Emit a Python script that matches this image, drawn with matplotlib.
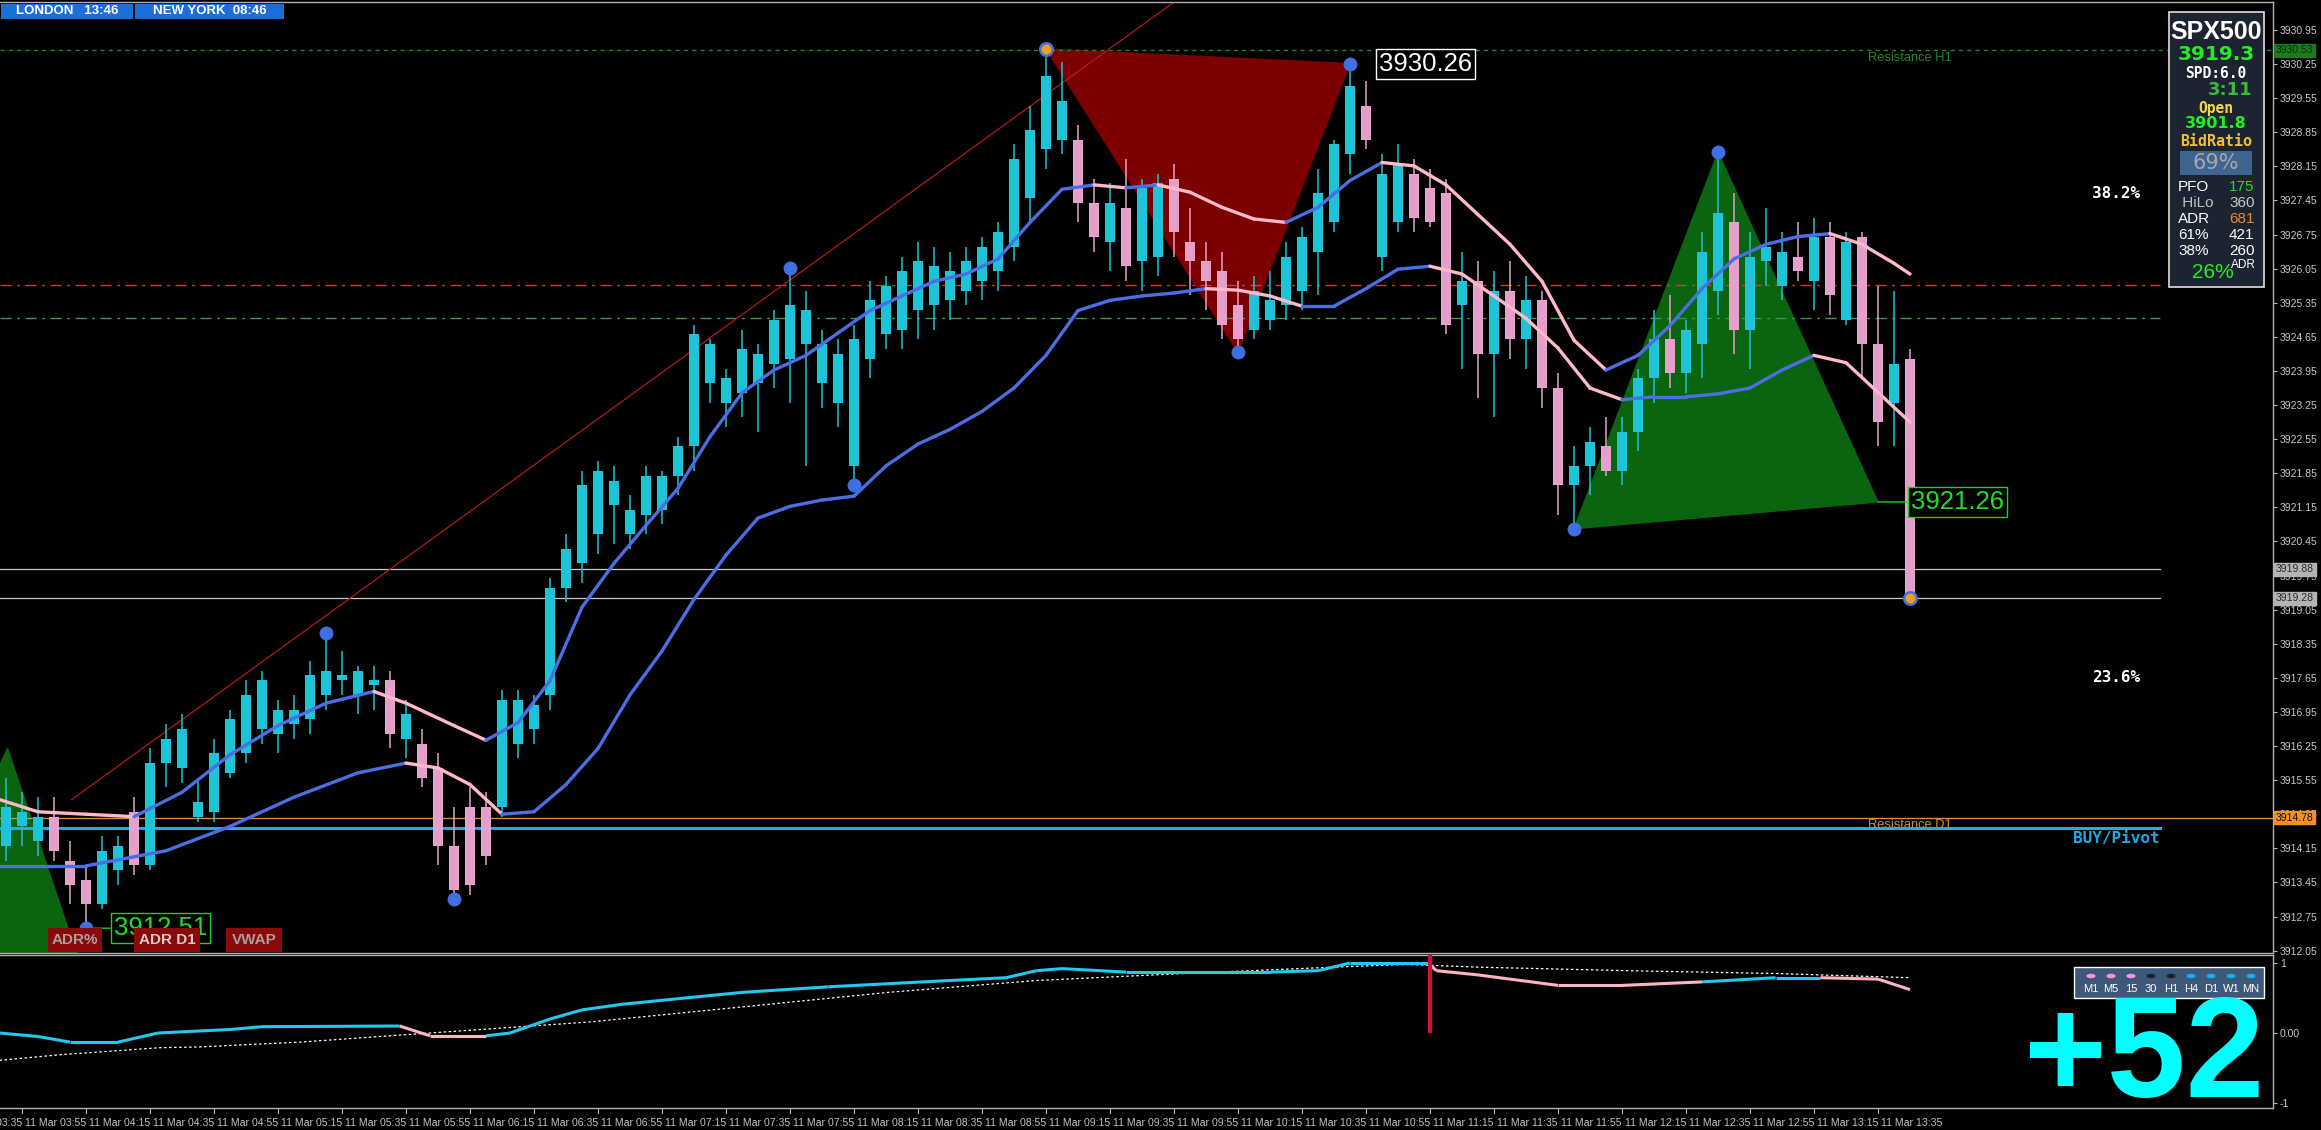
import numpy as np
import matplotlib
matplotlib.use("Agg")
import matplotlib.pyplot as plt
from matplotlib.patches import Rectangle, Polygon
from matplotlib.collections import LineCollection
import matplotlib.transforms as mtrans

W, H = 2321, 1130

# ---------------- data ----------------
# 5-minute candles, 11 Mar 03:50 ... 13:45 (bar index 0..119)
opens = [3914.2, 3914.6, 3914.3, 3914.8, 3913.9, 3913.5, 3913.0, 3913.7, 3914.9, 3913.8,
         3915.9, 3915.8, 3914.8, 3914.9, 3915.7, 3916.1, 3916.6, 3916.5, 3916.7, 3916.8,
         3917.3, 3917.6, 3917.3, 3917.5, 3917.6, 3916.4, 3916.3, 3915.8, 3914.2, 3915.0,
         3915.0, 3915.0, 3916.3, 3916.6, 3917.3, 3919.5, 3920.0, 3920.6, 3921.2, 3920.6,
         3921.0, 3921.1, 3921.8, 3922.4, 3923.7, 3923.3, 3923.5, 3923.7, 3924.1, 3924.2,
         3924.5, 3923.7, 3923.3, 3922.0, 3924.2, 3924.7, 3924.8, 3925.2, 3925.3, 3925.4,
         3925.6, 3925.8, 3926.0, 3926.5, 3927.5, 3928.5, 3928.7, 3928.7, 3927.4, 3926.6,
         3927.3, 3926.2, 3926.3, 3927.9, 3926.6, 3926.2, 3926.0, 3925.3, 3924.8, 3925.0,
         3925.3, 3925.6, 3926.4, 3927.0, 3928.4, 3929.4, 3926.3, 3927.0, 3928.0, 3927.7,
         3927.6, 3925.3, 3925.8, 3924.3, 3925.6, 3924.6, 3925.4, 3923.6, 3921.6, 3922.0,
         3922.4, 3921.9, 3922.7, 3923.8, 3924.6, 3923.9, 3924.5, 3925.6, 3927.0, 3924.8,
         3926.2, 3925.7, 3926.3, 3925.8, 3926.7, 3925.0, 3926.7, 3924.5, 3923.3, 3924.2]
highs = [3915.6, 3915.3, 3915.2, 3915.2, 3914.3, 3913.8, 3914.4, 3914.4, 3915.2, 3916.2,
         3916.7, 3916.9, 3915.6, 3916.4, 3917.0, 3917.6, 3917.8, 3917.2, 3917.3, 3918.0,
         3918.6, 3918.2, 3917.9, 3917.9, 3917.8, 3917.2, 3916.6, 3916.1, 3915.0, 3915.4,
         3915.3, 3917.4, 3917.4, 3917.3, 3919.7, 3920.6, 3921.9, 3922.1, 3922.0, 3921.4,
         3922.0, 3921.9, 3922.6, 3924.9, 3924.6, 3924.0, 3924.8, 3924.5, 3925.2, 3926.07,
         3925.6, 3924.8, 3924.6, 3924.9, 3925.8, 3925.9, 3926.3, 3926.6, 3926.5, 3926.4,
         3926.5, 3926.7, 3927.0, 3928.6, 3929.4, 3930.56, 3930.3, 3929.0, 3927.9, 3927.8,
         3928.3, 3927.9, 3928.0, 3928.2, 3927.3, 3926.6, 3926.4, 3925.8, 3925.9, 3926.0,
         3926.6, 3926.9, 3928.1, 3928.7, 3930.26, 3929.9, 3928.4, 3928.6, 3928.3, 3928.1,
         3927.9, 3926.4, 3926.2, 3926.0, 3926.2, 3925.9, 3925.6, 3923.9, 3922.4, 3922.8,
         3923.0, 3923.0, 3924.0, 3925.2, 3925.5, 3925.0, 3926.8, 3928.44, 3927.6, 3926.8,
         3927.3, 3926.8, 3927.0, 3927.1, 3927.0, 3926.8, 3926.8, 3925.7, 3925.6, 3924.4]
lows = [3913.9, 3914.2, 3914.0, 3913.9, 3913.0, 3912.51, 3912.9, 3913.4, 3913.6, 3913.7,
        3915.4, 3915.5, 3914.7, 3914.7, 3915.6, 3915.9, 3916.3, 3916.1, 3916.4, 3916.5,
        3917.0, 3917.3, 3916.9, 3917.0, 3916.2, 3916.0, 3915.4, 3913.8, 3913.11, 3913.2,
        3913.8, 3914.8, 3916.0, 3916.3, 3917.0, 3919.2, 3919.6, 3920.2, 3920.4, 3920.3,
        3920.6, 3920.8, 3921.4, 3921.9, 3923.3, 3922.8, 3923.0, 3922.7, 3923.6, 3923.3,
        3922.0, 3923.2, 3922.8, 3921.6, 3923.8, 3924.4, 3924.4, 3924.6, 3924.8, 3925.0,
        3925.3, 3925.4, 3925.6, 3926.2, 3927.0, 3928.1, 3928.4, 3927.0, 3926.4, 3926.0,
        3925.8, 3925.6, 3925.9, 3926.3, 3925.5, 3925.2, 3924.6, 3924.33, 3924.6, 3924.8,
        3925.0, 3925.2, 3925.5, 3926.8, 3928.0, 3928.5, 3926.0, 3926.8, 3926.8, 3926.9,
        3924.7, 3924.0, 3923.4, 3923.0, 3924.2, 3924.0, 3923.2, 3921.0, 3920.71, 3921.4,
        3921.8, 3921.6, 3922.3, 3923.3, 3923.6, 3923.5, 3923.8, 3925.1, 3924.3, 3924.0,
        3925.7, 3925.4, 3925.8, 3925.2, 3925.1, 3924.9, 3923.8, 3922.4, 3922.4, 3919.28]
closes = [3915.0, 3914.9, 3914.8, 3914.1, 3913.4, 3913.0, 3914.1, 3914.2, 3913.8, 3915.9,
          3916.4, 3916.6, 3915.1, 3916.1, 3916.8, 3917.3, 3917.6, 3917.0, 3917.0, 3917.7,
          3917.8, 3917.7, 3917.8, 3917.6, 3916.5, 3916.9, 3915.6, 3914.2, 3913.3, 3913.4,
          3914.0, 3917.2, 3917.2, 3917.1, 3919.5, 3920.3, 3921.6, 3921.9, 3921.7, 3921.1,
          3921.8, 3921.8, 3922.4, 3924.7, 3924.5, 3923.8, 3924.4, 3924.3, 3925.0, 3925.3,
          3925.2, 3924.5, 3924.3, 3924.6, 3925.4, 3925.7, 3926.0, 3926.2, 3926.1, 3926.0,
          3926.2, 3926.5, 3926.8, 3928.3, 3928.9, 3930.0, 3929.5, 3927.4, 3926.7, 3927.4,
          3926.1, 3927.7, 3927.8, 3926.8, 3926.2, 3925.8, 3924.9, 3924.6, 3925.6, 3925.4,
          3926.3, 3926.7, 3927.6, 3928.6, 3929.8, 3928.7, 3928.0, 3928.2, 3927.1, 3927.0,
          3924.9, 3925.8, 3924.3, 3925.6, 3924.6, 3925.4, 3923.6, 3921.6, 3922.0, 3922.5,
          3921.9, 3922.7, 3923.8, 3924.6, 3923.9, 3924.8, 3926.4, 3927.2, 3924.8, 3926.3,
          3926.5, 3926.4, 3926.0, 3926.7, 3925.5, 3926.6, 3924.5, 3922.9, 3924.1, 3919.28]

# fast moving average (bicolour) sampled at bar positions
fast_x = [-0.4, 2, 5, 8, 11, 14, 17, 20, 23, 25, 28, 30, 32, 34, 36, 38, 40, 42, 44, 46,
          48, 50, 52, 54, 56, 58, 60, 62, 64, 66, 68, 70, 72, 74, 76, 78, 80, 82, 84, 86,
          88, 90, 92, 94, 96, 98, 100, 102, 104, 106, 108, 110, 112, 114, 116, 118, 119]
fast_v = [3915.15, 3914.9, 3914.85, 3914.8, 3915.3, 3916.07, 3916.67, 3917.13, 3917.37, 3917.13,
          3916.67, 3916.37, 3916.73, 3917.59, 3919.1, 3920.0, 3920.78, 3921.54, 3922.6, 3923.5,
          3923.97, 3924.27, 3924.73, 3925.19, 3925.49, 3925.79, 3925.94, 3926.25, 3927.0, 3927.68,
          3927.77, 3927.71, 3927.77, 3927.62, 3927.31, 3927.07, 3927.0, 3927.31, 3927.86, 3928.23,
          3928.16, 3927.77, 3927.16, 3926.55, 3925.79, 3924.58, 3923.97, 3924.27, 3924.88, 3925.64,
          3926.25, 3926.55, 3926.71, 3926.77, 3926.55, 3926.16, 3925.94]
# slow moving average
slow_x = [-0.4, 5, 10, 14, 18, 22, 25, 27, 29, 31, 33, 35, 37, 39, 41, 43, 45, 47, 49, 51,
          53, 55, 57, 59, 61, 63, 65, 67, 69, 71, 73, 75, 77, 79, 81, 83, 85, 87, 89, 91,
          93, 95, 97, 99, 101, 103, 105, 107, 109, 111, 113, 115, 117, 119]
slow_v = [3913.79, 3913.79, 3914.1, 3914.6, 3915.2, 3915.7, 3915.9, 3915.8, 3915.46, 3914.85,
          3914.9, 3915.46, 3916.2, 3917.3, 3918.2, 3919.26, 3920.17, 3920.93, 3921.17, 3921.3,
          3921.38, 3922.0, 3922.45, 3922.75, 3923.12, 3923.6, 3924.27, 3925.19, 3925.4, 3925.49,
          3925.55, 3925.64, 3925.61, 3925.49, 3925.28, 3925.28, 3925.64, 3926.04, 3926.1, 3925.94,
          3925.49, 3925.03, 3924.42, 3923.6, 3923.36, 3923.42, 3923.42, 3923.48, 3923.6, 3923.97,
          3924.27, 3924.12, 3923.51, 3922.9]

# swing points (zig-zag dots)
swing_x = [5, 20, 28, 49, 53, 65, 77, 84, 98, 107, 119]
swing_p = [3912.51, 3918.58, 3913.11, 3926.07, 3921.60, 3930.56, 3924.33, 3930.26, 3920.71, 3928.44, 3919.28]
swing_hl = ['blue', 'blue', 'blue', 'blue', 'blue', 'orange', 'blue', 'blue', 'blue', 'blue', 'orange']

# harmonic triangles
tri_red_x = [65, 84, 77]
tri_red_p = [3930.56, 3930.26, 3924.33]
tri_green_x = [98, 107, 117]
tri_green_p = [3920.71, 3928.44, 3921.26]
tri_left_x = [-3, 0.1, 4.6, -3]
tri_left_p = [3914.0, 3916.2, 3911.8, 3911.8]

# trend line
trend_x = [4.1, 73.2]
trend_p = [3915.15, 3931.57]

# horizontal levels
res_h1 = 3930.53
lvl_red = 3925.72
lvl_green = 3925.04
lvl_gray = [3919.88, 3919.28]
res_d1 = 3914.78
pivot = 3914.56

# oscillator (lower window)
osc_x = [-0.4, 2, 4, 7, 9.5, 14, 16, 24.6, 26.5, 30, 31.5, 34, 36, 38.5, 42, 46, 51.4, 59, 62.5,
         64.4, 66, 70, 79, 82, 84, 88.9, 89.4, 92, 97, 101, 106, 110.6, 113.4, 117, 119]
osc_v = [0.0, -0.05, -0.13, -0.13, 0.0, 0.05, 0.09, 0.1, -0.04, -0.04, 0.0, 0.2, 0.33, 0.41,
         0.49, 0.58, 0.66, 0.75, 0.79, 0.89, 0.92, 0.87, 0.87, 0.89, 1.0, 1.0, 0.89, 0.83, 0.68,
         0.68, 0.73, 0.79, 0.79, 0.77, 0.62]
osc_col = ['c'] * 7 + ['p', 'p', 'c'] + ['c'] * 15 + ['p'] * 5 + ['c', 'c', 'p', 'p']
sig_x = [-0.4, 3.4, 6.5, 9.6, 12, 18.4, 24.6, 36.6, 45.9, 55.1, 64.4, 73.6, 82.9, 87.5, 92.1, 101.4, 110.6, 119]
sig_v = [-0.39, -0.31, -0.26, -0.21, -0.2, -0.13, -0.03, 0.16, 0.37, 0.58, 0.75, 0.85, 0.94, 0.98, 0.94, 0.89, 0.85, 0.79]
hist_x = [89]
hist_v = [1.12]

price_ticks = [3930.95, 3930.25, 3929.55, 3928.85, 3928.15, 3927.45, 3926.75, 3926.05, 3925.35,
               3924.65, 3923.95, 3923.25, 3922.55, 3921.85, 3921.15, 3920.45, 3919.75, 3919.05,
               3918.35, 3917.65, 3916.95, 3916.25, 3915.55, 3914.85, 3914.15, 3913.45, 3912.75, 3912.05]
time_labels = ["03:35", "03:55", "04:15", "04:35", "04:55", "05:15", "05:35", "05:55", "06:15",
               "06:35", "06:55", "07:15", "07:35", "07:55", "08:15", "08:35", "08:55", "09:15",
               "09:35", "09:55", "10:15", "10:35", "10:55", "11:15", "11:35", "11:55", "12:15",
               "12:35", "12:55", "13:15", "13:35"]
time_bars = [-3 + 4 * k for k in range(len(time_labels))]

tf_names = ["M1", "M5", "15", "30", "H1", "H4", "D1", "W1", "MN"]
tf_state = ["dn", "dn", "dn", "nt", "nt", "up", "up", "up", "up"]

# ---------------- colours ----------------
BULL = '#1ec3d8'
BEAR = '#e6a0cb'
MA_UP = '#4a6fe3'
MA_DN = '#ffb9c9'

# ---------------- layout (pixels) ----------------
PX_TOP, PX_MAIN_BOT = 2, 953
PX_LOW_TOP, PX_LOW_BOT = 955, 1108
PX_RIGHT = 2273
PPU = 48.71            # pixels per price unit
X0, X1 = -0.375, 141.6875


def fx(x):
    return x / W


def fy(y):
    return 1 - y / H


fig = plt.figure(figsize=(W / 100, H / 100), dpi=100)
fig.patch.set_facecolor('black')

ax = fig.add_axes([0, fy(PX_MAIN_BOT), fx(PX_RIGHT), (PX_MAIN_BOT - PX_TOP) / H])
ax2 = fig.add_axes([0, fy(PX_LOW_BOT), fx(PX_RIGHT), (PX_LOW_BOT - PX_LOW_TOP) / H])
for a in (ax, ax2):
    a.set_facecolor('black')
    a.set_xlim(X0, X1)
    a.spines['left'].set_visible(False)
    for s in ('top', 'right', 'bottom'):
        a.spines[s].set_color('#b0b0b0')
        a.spines[s].set_linewidth(1.0)
    a.set_xticks([])

ytop = 3930.95 + (30 - PX_TOP) / PPU
ybot = 3930.95 - (PX_MAIN_BOT - 30) / PPU
ax.set_ylim(ybot, ytop)
ax2.set_ylim(-(PX_LOW_BOT - 1033) / 70.0, (1033 - PX_LOW_TOP) / 70.0)

for a, ticks, labels in ((ax, price_ticks, ['%.2f' % t for t in price_ticks]),
                         (ax2, [1, 0, -1], ['1', '0.00', '-1'])):
    a.yaxis.tick_right()
    a.set_yticks(ticks)
    a.set_yticklabels(labels)
    a.tick_params(axis='y', colors='#b8b8b8', length=3, width=0.8, pad=2, labelsize=7.5)
    for lbl in a.get_yticklabels():
        lbl.set_fontfamily(['Liberation Sans', 'DejaVu Sans'])
        lbl.set_color('#c8c8c8')

# ---------------- main chart ----------------
ax.add_patch(Polygon(list(zip(tri_red_x, tri_red_p)), closed=True, fc='#7d0000', ec='#7d0000', zorder=1))
ax.add_patch(Polygon(list(zip(tri_green_x, tri_green_p)), closed=True, fc='#0a6410', ec='#0a6410', zorder=1))
ax.add_patch(Polygon(list(zip(tri_left_x, tri_left_p)), closed=True, fc='#0a6410', ec='#0a6410', zorder=1))

xr = 2160 / 16 + X0
ax.axhline(res_h1, color='#1f8a1f', lw=1, ls=(0, (3, 3)), zorder=2)
ax.plot([X0, xr], [lvl_red, lvl_red], color='#c8422a', lw=1, ls=(0, (8, 4, 2, 4)), zorder=2)
ax.plot([X0, xr], [lvl_green, lvl_green], color='#3a9a4a', lw=1, ls=(0, (8, 4, 2, 4)), zorder=2)
for lv in lvl_gray:
    ax.plot([X0, xr], [lv, lv], color='#c8c8c8', lw=0.9, zorder=2)
ax.axhline(res_d1, color='#e0883a', lw=1, zorder=2)
ax.plot([X0, xr], [pivot, pivot], color='#1aaee6', lw=2.2, zorder=2)

ax.plot(trend_x, trend_p, color='#b01c1c', lw=0.9, zorder=2)


def bicolor(xs, vs, lw):
    pts = np.column_stack([xs, vs])
    segs = np.stack([pts[:-1], pts[1:]], axis=1)
    cols = [MA_UP if vs[k + 1] >= vs[k] else MA_DN for k in range(len(vs) - 1)]
    lc = LineCollection(segs, colors=cols, linewidths=lw, zorder=4, capstyle='round', joinstyle='round')
    ax.add_collection(lc)


bicolor(slow_x, slow_v, 2.4)

idx = np.arange(len(opens))
o = np.array(opens); c = np.array(closes)
cols = [BULL if c[k] >= o[k] else BEAR for k in idx]
ax.vlines(idx, lows, highs, colors=cols, lw=1.1, zorder=3)
body_h = np.maximum(np.abs(c - o), 0.03)
ax.bar(idx, body_h, bottom=np.minimum(o, c), width=0.62, color=cols, zorder=3.5)

bicolor(fast_x, fast_v, 2.4)

for xx, pp, kind in zip(swing_x, swing_p, swing_hl):
    if kind == 'orange':
        ax.plot(xx, pp, 'o', ms=9, mfc='#f0a020', mec='#4a70e0', mew=1.8, zorder=6)
    else:
        ax.plot(xx, pp, 'o', ms=9, mfc='#3f6fe0', mec='#3f6fe0', zorder=6)

ax.annotate('3930.26', xy=(swing_x[7], swing_p[7]), xytext=(29, 0), textcoords='offset pixels',
            ha='left', va='center', color='white', fontsize=18.5, family=['Liberation Sans', 'DejaVu Sans'],
            bbox=dict(boxstyle='square,pad=0.12', fc='black', ec='white', lw=1), zorder=7)
ax.annotate('3921.26', xy=(tri_green_x[2], tri_green_p[2]), xytext=(33, 0), textcoords='offset pixels',
            ha='left', va='center', color='#22dd22', fontsize=18.5, family=['Liberation Sans', 'DejaVu Sans'],
            bbox=dict(boxstyle='square,pad=0.12', fc='black', ec='#22cc22', lw=1),
            arrowprops=dict(arrowstyle='-', color='#22cc22', lw=1, shrinkA=0, shrinkB=0), zorder=7)
ax.annotate('3912.51', xy=(swing_x[0], swing_p[0]), xytext=(28, 0), textcoords='offset pixels',
            ha='left', va='center', color='#22dd22', fontsize=18.5, family=['Liberation Sans', 'DejaVu Sans'],
            bbox=dict(boxstyle='square,pad=0.12', fc='black', ec='#22cc22', lw=1),
            arrowprops=dict(arrowstyle='-', color='#22cc22', lw=1, shrinkA=0, shrinkB=6), zorder=7)

ax.text(1868 / 16 + X0, res_h1, 'Resistance H1', color='#1f8a1f', fontsize=9.3,
        family=['Liberation Sans', 'DejaVu Sans'], ha='left', va='top', zorder=5,
        transform=mtrans.offset_copy(ax.transData, fig=fig, x=0, y=-2, units='dots'))
ax.text(1868 / 16 + X0, res_d1, 'Resistance D1', color='#d8883a', fontsize=9.3,
        family=['Liberation Sans', 'DejaVu Sans'], ha='left', va='top', zorder=1.5,
        transform=mtrans.offset_copy(ax.transData, fig=fig, x=0, y=-1, units='dots'))
ax.text(xr, pivot, 'BUY/Pivot', color='#22a8e0', fontsize=11.5, fontweight='bold',
        family=['DejaVu Sans Mono'], ha='right', va='top', zorder=5,
        transform=mtrans.offset_copy(ax.transData, fig=fig, x=0, y=-3, units='dots'))


def price_box(p, txt, fc, tc):
    ax.annotate(txt, xy=(1.0, p), xycoords=('axes fraction', 'data'), xytext=(3, 0),
                textcoords='offset pixels', ha='left', va='center', fontsize=7.5, color=tc,
                family=['Liberation Sans', 'DejaVu Sans'], annotation_clip=False,
                bbox=dict(boxstyle='square,pad=0.15', fc=fc, ec=fc), zorder=10)


price_box(res_h1, '3930.53', '#1f7a1f', '#0c2c0c')
price_box(lvl_gray[0], '3919.88', '#b4b4b4', '#2a2a2a')
price_box(lvl_gray[1], '3919.28', '#b4b4b4', '#2a2a2a')
price_box(res_d1, '3914.78', '#f59020', '#101010')

fig.text(fx(2140), fy(193), '38.2%', color='white', fontsize=11.5, fontweight='bold',
         family='DejaVu Sans Mono', ha='right', va='center')
fig.text(fx(2140), fy(677), '23.6%', color='white', fontsize=11.5, fontweight='bold',
         family='DejaVu Sans Mono', ha='right', va='center')

# ---------------- lower window ----------------
pts = np.column_stack([osc_x, osc_v])
segs = np.stack([pts[:-1], pts[1:]], axis=1)
lc = LineCollection(segs, colors=['#22c8ee' if k == 'c' else '#ffb4c4' for k in osc_col],
                    linewidths=2.2, zorder=3)
ax2.add_collection(lc)
ax2.plot(sig_x, sig_v, color='white', lw=0.9, ls=(0, (2, 2)), zorder=2)
ax2.vlines(hist_x, 0, hist_v, colors='#d01038', lw=3, zorder=4)

blend = mtrans.blended_transform_factory(ax2.transData, ax2.transAxes)
for tb, tl in zip(time_bars, time_labels):
    ax2.plot([tb, tb], [0, -0.035], color='#b0b0b0', lw=0.8, transform=blend, clip_on=False)
    ax2.text(tb, -0.065, '11 Mar ' + tl, color='#c0c0c0', fontsize=7.6,
             family=['Liberation Sans Narrow', 'Liberation Sans', 'DejaVu Sans'],
             ha='left', va='top', clip_on=False,
             transform=mtrans.offset_copy(blend, fig=fig, x=3, y=0, units='dots'))

fig.text(fx(2264), fy(1097), '+52', color='#00ffff', fontsize=102, fontweight='bold',
         family=['Liberation Sans', 'DejaVu Sans'], ha='right', va='baseline')

fig.add_artist(Rectangle((fx(2074), fy(998)), 190 / W, 31 / H, transform=fig.transFigure,
                         fc='#3d5878', ec='white', lw=1))
tf_col = {'dn': '#ff8cf0', 'nt': '#1c2230', 'up': '#12b0f5'}
for k, (nm, st) in enumerate(zip(tf_names, tf_state)):
    xx = 2091 + 20 * k
    fig.add_artist(plt.Circle((fx(xx), fy(976)), 4.6 / W, transform=fig.transFigure, fc=tf_col[st], ec='none'))
    fig.text(fx(xx), fy(989), nm, color='white', fontsize=8, family=['Liberation Sans', 'DejaVu Sans'],
             ha='center', va='center')

# ---------------- overlays ----------------
for (x0, x1, txt) in ((1, 133, 'LONDON   13:46'), (135, 284, 'NEW YORK  08:46')):
    fig.add_artist(Rectangle((fx(x0), fy(19)), (x1 - x0) / W, 15 / H, transform=fig.transFigure,
                             fc='#1a6fd8', ec='none'))
    fig.text(fx((x0 + x1) / 2), fy(11.5), txt, color='white', fontsize=9.5, fontweight='bold',
             family=['Liberation Sans', 'DejaVu Sans'], ha='center', va='center')

for (x0, x1, txt, tc) in ((48, 102, 'ADR%', '#a8a0a0'), (134, 200, 'ADR D1', '#d8cccc'), (226, 282, 'VWAP', '#a8a0a0')):
    fig.add_artist(Rectangle((fx(x0), fy(952)), (x1 - x0) / W, 24 / H, transform=fig.transFigure,
                             fc='#8a0a0a', ec='none', zorder=8))
    fig.text(fx((x0 + x1) / 2), fy(940), txt, color=tc, fontsize=11, fontweight='bold',
             family=['Liberation Sans Narrow', 'Liberation Sans', 'DejaVu Sans'], ha='center', va='center', zorder=9)

fig.add_artist(Rectangle((fx(2169), fy(287)), 95 / W, 275 / H, transform=fig.transFigure,
                         fc='#1c2331', ec='#e8dada', lw=1.2, zorder=8))


def ptxt(x, y, s, color, size, weight='normal', family=('Liberation Sans', 'DejaVu Sans'), ha='center'):
    fig.text(fx(x), fy(y), s, color=color, fontsize=size, fontweight=weight, family=list(family),
             ha=ha, va='center', zorder=9)


ptxt(2216, 32, 'SPX500', 'white', 18, 'bold', ('Liberation Sans Narrow', 'Liberation Sans', 'DejaVu Sans'))
ptxt(2216, 55, '3919.3', '#22ee22', 14.5, 'bold', ('DejaVu Sans',))
ptxt(2216, 73, 'SPD:6.0', 'white', 10.5, 'bold', ('DejaVu Sans Mono',))
ptxt(2252, 90, '3:11', '#3cb83c', 13, 'bold', ('DejaVu Sans',), ha='right')
ptxt(2216, 108, 'Open', '#f5d742', 10.5, 'bold', ('DejaVu Sans Mono',))
ptxt(2216, 123, '3901.8', '#22ee22', 11.5, 'bold', ('DejaVu Sans',))
ptxt(2216, 142, 'BidRatio', '#f0c030', 10.8, 'bold', ('DejaVu Sans Mono',))
fig.add_artist(Rectangle((fx(2180), fy(175)), 72 / W, 24 / H, transform=fig.transFigure,
                         fc='#3d6590', ec='none', zorder=8.5))
ptxt(2216, 163, '69%', '#a8a8a8', 15, 'normal', ('DejaVu Sans',))
rows = [(187, 'PFO', 'white', '175', '#22dd22'),
        (203, ' HiLo', '#c0c0c0', '360', '#c8c8c8'),
        (219, 'ADR', 'white', '681', '#e8893a'),
        (235, '61%', 'white', '421', 'white'),
        (251, '38%', 'white', '260', 'white')]
for y, l, lc_, r, rc in rows:
    ptxt(2178, y, l, lc_, 11, ha='left')
    ptxt(2229, y, r, rc, 11, ha='left')
ptxt(2192, 273, '26%', '#22ee22', 15, ha='left')
ptxt(2231, 265, 'ADR', 'white', 8.5, ha='left')

fig.savefig('out.png', dpi=100, facecolor='black')
